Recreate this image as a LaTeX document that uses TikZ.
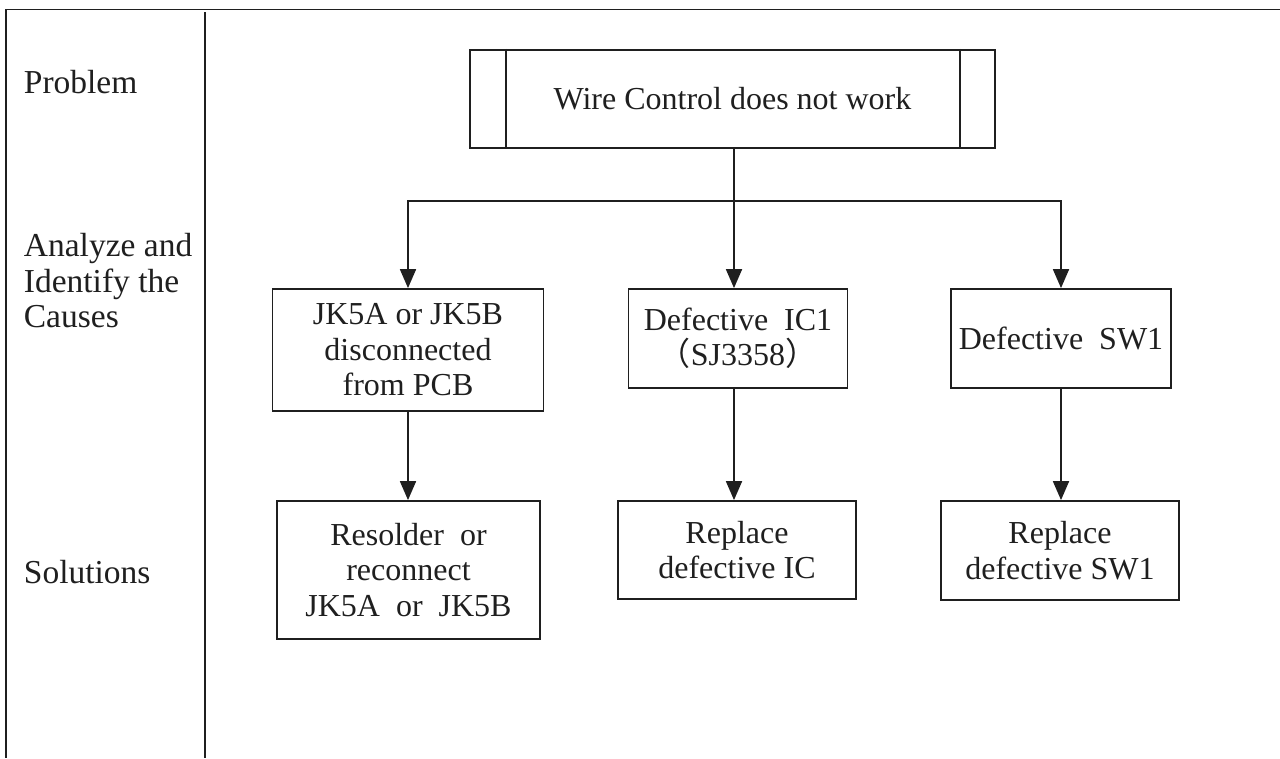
\documentclass[tikz,border=0pt]{standalone}
\usepackage{fontspec}
\setmainfont{Liberation Serif}
\newfontfamily\cjk{Noto Sans CJK SC}
\usetikzlibrary{arrows.meta}
\begin{document}
\begin{tikzpicture}[x=1pt,y=-1pt,
  line width=1.8pt, draw=black!88,
  box/.style={draw, rectangle, inner sep=0pt, align=center,
    font=\fontsize{32}{35.5}\selectfont, text=black!88},
  lbl/.style={anchor=west, inner sep=0pt, align=left,
    font=\fontsize{33.5}{35.5}\selectfont, text=black!88},
  flow/.style={-{Triangle[length=19pt,width=16pt]}}]
\useasboundingbox (0,0) rectangle (1280,758);
% page frame and column divider
\draw (5,9.5) -- (1280,9.5);
\draw (6,9.5) -- (6,758);
\draw (205,12) -- (205,758);
% row labels
\node[lbl] (lp) at (23,82) {Problem};
\node[lbl] (la) at (23,281) {Analyze and\\Identify the\\Causes};
\node[lbl] (ls) at (23,572) {Solutions};
% problem box with double side bars
\node[box, minimum width=525pt, minimum height=98.5pt] (top) at (732.5,99) {Wire Control does not work};
\draw ([xshift=36.5pt]top.north west) -- ([xshift=36.5pt]top.south west);
\draw ([xshift=-36pt]top.north east) -- ([xshift=-36pt]top.south east);
% causes
\node[box, minimum width=219pt, minimum height=99pt] (c2) at (738,338.5) {Defective\ \ IC1\\{\cjk （}SJ3358{\cjk ）}};
\node[box, minimum width=271pt, minimum height=122pt] (c1) at (408,350) {JK5A or JK5B\\disconnected\\from PCB};
\node[box, minimum width=220pt, minimum height=99pt] (c3) at (1061,338.5) {Defective\ \ SW1};
% solutions
\node[box, minimum width=263pt, minimum height=138pt] (s1) at (408.5,570) {Resolder\ \ or\\reconnect\\JK5A\ \ or\ \ JK5B};
\node[box, minimum width=238pt, minimum height=98pt] (s2) at (737,550) {Replace\\defective IC};
\node[box, minimum width=238pt, minimum height=99pt] (s3) at (1060,550.5) {Replace\\defective SW1};
% connectors
\coordinate (j) at (734,201);
\draw (top.south -| j) -- (j);
\draw[flow] (j) -| (c1.north);
\draw[flow] (j) -- (j |- c2.north);
\draw[flow] (j) -| (c3.north);
\draw[flow] (c1.south) -- (c1.south |- s1.north);
\draw[flow] (c2.south -| j) -- (j |- s2.north);
\draw[flow] (c3.south) -- (c3.south |- s3.north);
\end{tikzpicture}
\end{document}
